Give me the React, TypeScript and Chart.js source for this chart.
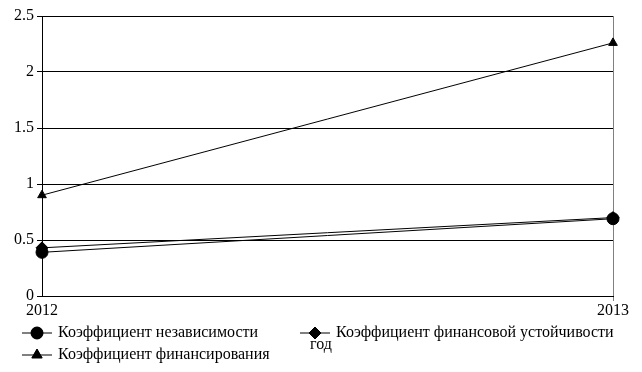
import React, { useEffect, useRef } from "react";
import { Chart, registerables } from "chart.js";
import { drawPoint } from "chart.js/helpers";

Chart.register(...registerables);

const categories = ["2012", "2013"];
const independence = [0.39, 0.69];
const stability = [0.43, 0.7];
const financing = [0.9, 2.26];
const seriesNames = [
  "Коэффициент независимости",
  "Коэффициент финансовой устойчивости",
  "Коэффициент финансирования",
];
const axisTitle = "год";

const FONT = "'Liberation Serif', 'Times New Roman', serif";

const legendPlugin = {
  id: "customLegend",
  afterDraw(chart: any) {
    const ctx = chart.ctx;
    ctx.save();
    ctx.font = `16px ${FONT}`;
    ctx.fillStyle = "#000";
    ctx.strokeStyle = "#000";
    ctx.textBaseline = "middle";
    const items = [
      { x: 22, y: 333, style: "circle", r: 6, text: seriesNames[0] },
      { x: 300, y: 333, style: "rectRot", r: 6, text: seriesNames[1] },
      { x: 22, y: 355, style: "triangle", r: 6, text: seriesNames[2] },
    ];
    for (const it of items) {
      ctx.lineWidth = 1;
      ctx.beginPath();
      ctx.moveTo(it.x, it.y);
      ctx.lineTo(it.x + 30, it.y);
      ctx.stroke();
      drawPoint(ctx, { pointStyle: it.style, radius: it.r, borderWidth: 1 } as any, it.x + 15, it.y);
      ctx.fill();
      ctx.textAlign = "left";
      ctx.fillText(it.text, it.x + 36, it.y);
    }
    ctx.textAlign = "center";
    ctx.fillText(axisTitle, 321, 345);
    ctx.restore();
  },
};

export default function App() {
  const ref = useRef<HTMLCanvasElement | null>(null);
  useEffect(() => {
    if (!ref.current) return;
    const mk = (label: string, data: number[], style: string, r: number) => ({
      label,
      data,
      borderColor: "#000",
      backgroundColor: "#000",
      borderWidth: 1,
      pointStyle: style,
      pointRadius: r,
      pointBorderWidth: 1,
      tension: 0,
    });
    const chart = new Chart(ref.current, {
      type: "line",
      data: {
        labels: categories,
        datasets: [
          mk(seriesNames[0], independence, "circle", 6),
          mk(seriesNames[1], stability, "rectRot", 6),
          mk(seriesNames[2], financing, "triangle", 5),
        ],
      },
      plugins: [legendPlugin],
      options: {
        responsive: false,
        animation: false,
        devicePixelRatio: 1,
        layout: { padding: { left: 0, right: 29, top: 16, bottom: 0 } },
        plugins: { legend: { display: false }, tooltip: { enabled: false } },
        scales: {
          x: {
            offset: false,
            afterFit: (s: any) => {
              s.height = 76;
            },
            grid: {
              display: true,
              drawOnChartArea: true,
              color: (c: any) => (c.index === 1 ? "#808080" : "rgba(0,0,0,0)"),
              tickLength: 5,
              lineWidth: 1,
            },
            border: { display: true, color: "#000" },
            ticks: {
              color: "#000",
              font: { family: FONT, size: 16 },
              padding: 0,
              maxRotation: 0,
            },
          },
          y: {
            min: 0,
            max: 2.5,
            afterFit: (s: any) => {
              s.width = 42;
            },
            grid: {
              color: "#000",
              lineWidth: 1,
              tickLength: 5,
            },
            border: { display: true, color: "#000" },
            ticks: {
              stepSize: 0.5,
              color: "#000",
              font: { family: FONT, size: 16 },
              padding: 3,
              callback: (v: any) => String(v),
            },
          },
        },
      },
    });
    return () => chart.destroy();
  }, []);
  return (
    <div style={{ position: "fixed", left: 0, top: 0, width: 642, height: 372, background: "#fff" }}>
      <canvas ref={ref} width={642} height={372} style={{ width: 642, height: 372 }} />
    </div>
  );
}
